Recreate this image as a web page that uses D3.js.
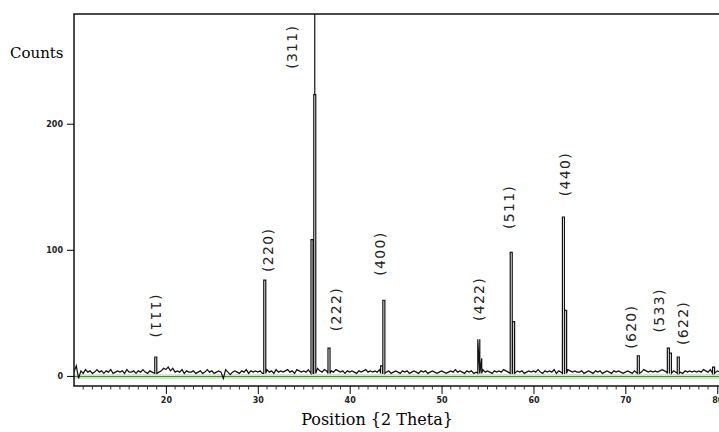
<!DOCTYPE html>
<html>
<head>
<meta charset="utf-8">
<script src="https://cdn.jsdelivr.net/npm/d3@7"></script>
<style>
  body { margin: 0; background: #fff; }
  svg { display: block; }
</style>
</head>
<body>
<div id="chart"></div>
<script>
// Diffraction peaks (2 theta, counts)
const peakAngles = [18.9, 30.76, 35.9, 36.2, 37.75, 43.48, 43.72, 54.05, 54.26, 57.58, 57.84, 63.26, 63.5, 71.41, 74.68, 74.9, 75.76, 79.6];
const peakCounts = [15, 76, 108, 223, 22, 8, 60, 29, 14, 98, 43, 126, 52, 16, 22, 18, 15, 7];
// the (311) reflection runs off the top of the frame
const spikeAngle = 36.2;
const spikeCount = 300;

// Background noise, every 0.25 deg from 10 to 80.25
const noiseStart = 10;
const noiseStep = 0.25;
const noiseCounts = [
  3, 8, -2, 4, 2, 5, 3, 4, 2, 3, 5, 3, 4, 2, 4, 3, 5, 2, 3, 4,
  3, 4, 2, 5, 3, 3, 4, 2, 4, 3, 5, 3, 2, 4, 3, 4, 5, 3, 4, 6,
  5, 7, 4, 6, 3, 4, 3, 5, 2, 4, 3, 3, 4, 2, 3, 4, 2, 3, 5, 3,
  4, 2, 3, 4, 3, -2, 5, 3, 1, 3, 4, 3, 2, 4, 3, 5, 2, 4, 3, 4,
  3, 4, 2, 4, 5, 3, 4, 2, 5, 3, 4, 3, 4, 5, 3, 4, 2, 5, 4, 3,
  4, 3, 5, 4, 3, 4, 6, 4, 3, 5, 4, 3, 4, 3, 5, 4, 3, 4, 2, 4,
  3, 4, 3, 2, 4, 3, 4, 5, 3, 4, 3, 4, 3, 5, 2, 4, 3, 4, 2, 3,
  4, 3, 2, 4, 3, 4, 2, 3, 4, 3, 2, 4, 3, 4, 2, 3, 4, 3, 2, 3,
  4, 3, 2, 3, 4, 3, 5, 3, 4, 3, 2, 4, 3, 4, 2, 3, 4, 3, 5, 3,
  4, 3, 2, 4, 3, 4, 3, 5, 4, 3, 4, 2, 3, 4, 3, 4, 2, 3, 4, 3,
  4, 3, 5, 3, 2, 4, 3, 4, 3, 5, 2, 4, 3, 4, 3, 5, 4, 3, 4, 3,
  3, 4, 2, 3, 4, 3, 2, 4, 3, 4, 2, 3, 4, 3, 2, 4, 3, 4, 3, 2,
  3, 4, 3, 2, 4, 3, 4, 3, 5, 4, 3, 4, 3, 4, 3, 4, 5, 4, 3, 4,
  5, 4, 3, 4, 3, 2, 4, 3, 4, 3, 4, 3, 4, 3, 5, 4, 3, 5, 4, 3,
  4, 3
];

// Fitted background (green)
const bgAngles = [10, 45, 80.3];
const bgCounts = [-0.5, -0.5, -0.5];

// hkl labels and where their centres sit (2 theta, counts)
const hklLabels = ["(111)", "(220)", "(311)", "(222)", "(400)", "(422)", "(511)", "(440)", "(620)", "(533)", "(622)"];
const hklAngles = [18.91, 31.09, 33.7, 38.55, 43.26, 54.05, 57.32, 63.48, 70.62, 73.7, 76.3];
const hklCounts = [47, 100, 261, 53, 97, 61, 134, 160, 39, 52, 42];

const xTicks = [20, 30, 40, 50, 60, 70, 80];
const yTicks = [0, 100, 200];

const width = 719, height = 432;
const svg = d3.select("#chart").append("svg")
  .attr("width", width)
  .attr("height", height);

const x = d3.scaleLinear().domain([10, 80.3]).range([74, 720]);
const y = d3.scaleLinear().domain([-8, 287]).range([386, 14]);

svg.append("clipPath").attr("id", "plot")
  .append("rect")
  .attr("x", 74).attr("y", 14)
  .attr("width", width - 74).attr("height", 372);

// build the measured profile: noise plus narrow peak bars
const halfW = 0.11;
const base = 2;
let points = [];
noiseCounts.forEach((c, i) => {
  const a = noiseStart + i * noiseStep;
  if (peakAngles.every(p => Math.abs(a - p) > 0.16)) points.push([a, c]);
});
peakAngles.forEach((p, i) => {
  const h = peakCounts[i];
  points.push([p - halfW, base], [p - halfW, h]);
  if (p === spikeAngle) points.push([p, h], [p, spikeCount], [p, h]);
  points.push([p + halfW, h], [p + halfW, base]);
});
points.sort((a, b) => a[0] - b[0]);

const line = d3.line().x(d => x(d[0])).y(d => y(d[1]));

const g = svg.append("g").attr("clip-path", "url(#plot)");

const bg = bgAngles.map((a, i) => [a, bgCounts[i]]);
g.append("path").datum(bg)
  .attr("d", line)
  .attr("fill", "none")
  .attr("stroke", "#d3e8c8")
  .attr("stroke-width", 5);
g.append("path").datum(bg)
  .attr("d", line)
  .attr("fill", "none")
  .attr("stroke", "#4d7f40")
  .attr("stroke-width", 1);

g.append("path").datum(points)
  .attr("d", line)
  .attr("fill", "none")
  .attr("stroke", "#111")
  .attr("stroke-width", 1.2);

// frame: left, top, bottom
svg.append("path")
  .attr("d", `M${width},14H74V386H${width}`)
  .attr("fill", "none")
  .attr("stroke", "#111")
  .attr("stroke-width", 1.5);

// x axis
const xAxis = d3.axisBottom(x)
  .tickValues(xTicks)
  .tickSize(8)
  .tickPadding(3);
const xg = svg.append("g").attr("transform", "translate(0,386)").call(xAxis);
xg.select(".domain").remove();
xg.selectAll("text")
  .style("font-family", "DejaVu Sans")
  .style("font-size", "8px")
  .style("font-weight", "bold")
  .attr("fill", "#222");

const minor = d3.range(11, 81).filter(v => v % 10 !== 0);
svg.append("g").selectAll("line").data(minor).enter().append("line")
  .attr("x1", d => x(d)).attr("x2", d => x(d))
  .attr("y1", 386).attr("y2", 389.5)
  .attr("stroke", "#333").attr("stroke-width", 1);

// y axis
const yAxis = d3.axisLeft(y)
  .tickValues(yTicks)
  .tickSize(7)
  .tickPadding(4);
const yg = svg.append("g").attr("transform", "translate(74,0)").call(yAxis);
yg.select(".domain").remove();
yg.selectAll("text")
  .style("font-family", "DejaVu Sans")
  .style("font-size", "8px")
  .style("font-weight", "bold")
  .attr("fill", "#222");

// axis titles
svg.append("text")
  .attr("x", 10).attr("y", 58)
  .style("font-family", "DejaVu Serif")
  .style("font-size", "15px")
  .text("Counts");

svg.append("text")
  .attr("x", 377).attr("y", 425)
  .attr("text-anchor", "middle")
  .style("font-family", "DejaVu Serif")
  .style("font-size", "16px")
  .text("Position {2 Theta}");

// hkl labels
svg.append("g").selectAll("text").data(hklLabels).enter().append("text")
  .attr("transform", (d, i) => {
    const rot = d === "(111)" ? 90 : -90;
    return `translate(${x(hklAngles[i])},${y(hklCounts[i])}) rotate(${rot})`;
  })
  .attr("text-anchor", "middle")
  .attr("dy", "0.36em")
  .style("font-family", "DejaVu Sans")
  .style("font-size", "14px")
  .style("letter-spacing", "1.3px")
  .attr("fill", "#222")
  .text(d => d);
</script>
</body>
</html>
